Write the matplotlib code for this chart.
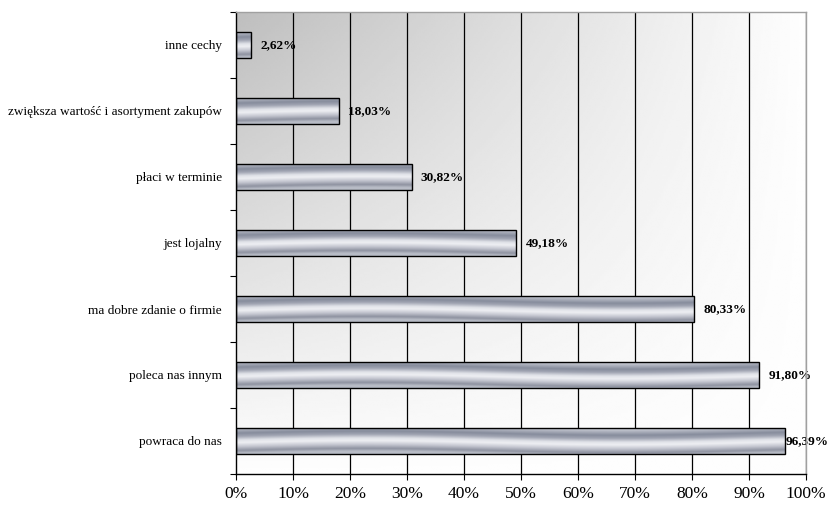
import numpy as np
import matplotlib
matplotlib.use('Agg')
import matplotlib.pyplot as plt
from matplotlib.colors import LinearSegmentedColormap
from matplotlib.ticker import FixedLocator, NullFormatter

# Cechy klienta i udział odpowiedzi (%)
categories = ['inne cechy',
              'zwiększa wartość i asortyment zakupów',
              'płaci w terminie',
              'jest lojalny',
              'ma dobre zdanie o firmie',
              'poleca nas innym',
              'powraca do nas']
values = [2.62, 18.03, 30.82, 49.18, 80.33, 91.80, 96.39]
value_labels = ['2,62%', '18,03%', '30,82%', '49,18%', '80,33%', '91,80%', '96,39%']
xticks = list(range(0, 101, 10))
xtick_labels = [str(t) + '%' for t in xticks]

plt.rcParams['font.family'] = ['Liberation Serif', 'DejaVu Serif']

fig = plt.figure(figsize=(8.28, 5.05), dpi=100)
ax = fig.add_axes([236 / 828, 1 - 474 / 505, 570 / 828, 462 / 505])

n = len(categories)
ypos = np.arange(n)
bar_h = 0.4

ax.set_xlim(0, 100)
ax.set_ylim(n - 0.5, -0.5)

# background: grey in the top-left corner fading to white
gx, gy = np.meshgrid(np.linspace(0, 1, 300), np.linspace(0, 1, 200))
shade = 1 - (1 - gx) * (1 - gy)
bg = 0.745 + 0.25 * shade
ax.imshow(bg, cmap='gray', vmin=0, vmax=1, extent=(0, 100, n - 0.5, -0.5),
          aspect='auto', origin='upper', zorder=0, interpolation='bilinear')

# vertical grid
for t in xticks[1:]:
    ax.axvline(t, color='black', lw=0.9, zorder=1)

# metallic fill for the bars
metal = LinearSegmentedColormap.from_list('metal', [
    (0.00, '#b8bcc6'),
    (0.10, '#8e92a0'),
    (0.25, '#c4c6d0'),
    (0.40, '#eeeff3'),
    (0.50, '#e0e2e8'),
    (0.64, '#a0a4b2'),
    (0.76, '#868c9c'),
    (0.90, '#aeb2be'),
    (1.00, '#cdd0d8'),
])

for y, v in zip(ypos, values):
    rect = ax.barh(y, v, height=bar_h, color='none', edgecolor='black',
                   lw=1.0, zorder=3)[0]
    u = np.linspace(0, v, max(int(v * 6), 20))
    w = np.linspace(0, 1, 60)
    U, W = np.meshgrid(u, w)
    # bands slant slightly upwards to the right
    t = W - 0.08 * np.sin(2 * np.pi * U / 90.0) - 0.02
    t = np.clip(t, 0, 1)
    im = ax.imshow(t, cmap=metal, vmin=0, vmax=1,
                   extent=(0, v, y + bar_h / 2, y - bar_h / 2),
                   aspect='auto', origin='lower', zorder=2,
                   interpolation='bilinear')
    im.set_clip_path(rect)

# value labels
for y, v, lab in zip(ypos, values, value_labels):
    ax.text(min(v + 1.6, 96.5), y, lab, ha='left', va='center',
            fontsize=9.5, fontweight='bold', zorder=4)

ax.set_yticks(ypos)
ax.set_yticklabels(categories, fontsize=9.5)
ax.tick_params(axis='y', length=0, pad=10)
ax.yaxis.set_minor_locator(FixedLocator(np.arange(-0.5, n, 1.0)))
ax.yaxis.set_minor_formatter(NullFormatter())
ax.tick_params(axis='y', which='minor', length=4, width=0.8, direction='out')

ax.set_xticks(xticks)
ax.set_xticklabels(xtick_labels, fontsize=12.5)
ax.tick_params(axis='x', length=4, width=0.8, direction='out', pad=5)

ax.spines['left'].set_color('black')
ax.spines['bottom'].set_color('black')
ax.spines['top'].set_color('#a0a0a0')
ax.spines['right'].set_color('#a0a0a0')
for s in ax.spines.values():
    s.set_linewidth(1.0)
    s.set_zorder(5)

fig.savefig('out.png', dpi=100)
